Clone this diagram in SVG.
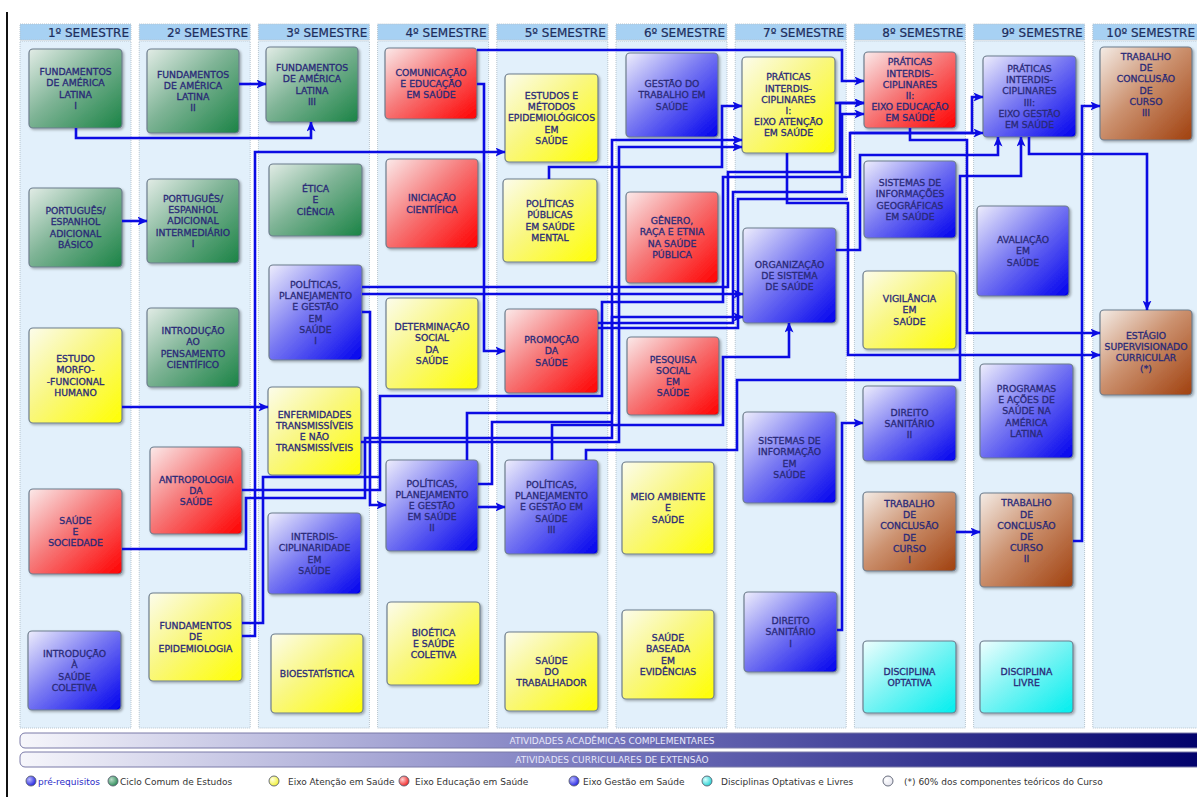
<svg xmlns="http://www.w3.org/2000/svg" width="1197" height="797" viewBox="0 0 1197 797">
<style>
.lane{fill:#e2f0fb;stroke:#b7c4ce;stroke-width:1;stroke-dasharray:1 1}
.hdr{fill:#a7d1f3;stroke:#b7c4ce;stroke-width:1;stroke-dasharray:1 1}
.ht{font-family:'DejaVu Sans','Liberation Sans',sans-serif;font-size:12px;fill:#1d2d5c;stroke:#1d2d5c;stroke-width:0.2;text-anchor:end}
.box{stroke:#6d7d8d;stroke-width:1.2;filter:url(#sh)}
.lbl{font-family:'DejaVu Sans','Liberation Sans',sans-serif;font-size:9.3px;fill:#2a2a78;stroke:#2a2a78;stroke-width:0.3;text-anchor:middle}
.g{fill:url(#gG)}.y{fill:url(#gY)}.r{fill:url(#gR)}.b{fill:url(#gB)}.br{fill:url(#gBr)}.c{fill:url(#gC)}
.cn{fill:none;stroke:#0b0be3;stroke-width:2.6;stroke-linejoin:miter}
.ar{marker-end:url(#ah)}
.bar{stroke:#7a7aa8;stroke-width:1;fill:url(#gBar)}
.bt{font-family:'DejaVu Sans','Liberation Sans',sans-serif;font-size:9px;fill:#e8e8fa;text-anchor:middle}
.lt{font-family:'DejaVu Sans','Liberation Sans',sans-serif;font-size:9px;fill:#333}
.lc{stroke:#5a6070;stroke-width:0.9}
</style>
<defs>
<filter id="sh" x="-10%" y="-10%" width="125%" height="125%"><feDropShadow dx="1.5" dy="1.5" stdDeviation="1.2" flood-color="#000" flood-opacity="0.3"/></filter>
<linearGradient id="gG" x1="0" y1="0" x2="1" y2="1"><stop offset="0" stop-color="#e2ece6"/><stop offset="0.45" stop-color="#7fb496"/><stop offset="1" stop-color="#1a8345"/></linearGradient>
<linearGradient id="gY" x1="0" y1="0" x2="1" y2="1"><stop offset="0" stop-color="#fcfcec"/><stop offset="0.45" stop-color="#f9f780"/><stop offset="1" stop-color="#ffff00"/></linearGradient>
<linearGradient id="gR" x1="0" y1="0" x2="1" y2="1"><stop offset="0" stop-color="#fbeaea"/><stop offset="0.45" stop-color="#f67a7a"/><stop offset="1" stop-color="#ff0000"/></linearGradient>
<linearGradient id="gB" x1="0" y1="0" x2="1" y2="1"><stop offset="0" stop-color="#eeeefc"/><stop offset="0.45" stop-color="#7a7af2"/><stop offset="1" stop-color="#0000ee"/></linearGradient>
<linearGradient id="gBr" x1="0" y1="0" x2="1" y2="1"><stop offset="0" stop-color="#f4ece6"/><stop offset="0.45" stop-color="#cc9270"/><stop offset="1" stop-color="#a0400e"/></linearGradient>
<linearGradient id="gC" x1="0" y1="0" x2="1" y2="1"><stop offset="0" stop-color="#eefefe"/><stop offset="0.45" stop-color="#80f4f4"/><stop offset="1" stop-color="#00eeee"/></linearGradient>
<linearGradient id="gBar" x1="0" y1="0" x2="1" y2="0"><stop offset="0" stop-color="#f6f6fb"/><stop offset="0.5" stop-color="#7474bc"/><stop offset="1" stop-color="#00006a"/></linearGradient>
<radialGradient id="lB" cx="0.35" cy="0.35" r="0.7"><stop offset="0" stop-color="#b8b8ff"/><stop offset="1" stop-color="#2020e0"/></radialGradient>
<radialGradient id="lG" cx="0.35" cy="0.35" r="0.7"><stop offset="0" stop-color="#b8dcc8"/><stop offset="1" stop-color="#2a8a55"/></radialGradient>
<radialGradient id="lY" cx="0.35" cy="0.35" r="0.7"><stop offset="0" stop-color="#ffffe0"/><stop offset="1" stop-color="#f0f030"/></radialGradient>
<radialGradient id="lR" cx="0.35" cy="0.35" r="0.7"><stop offset="0" stop-color="#ffd0d0"/><stop offset="1" stop-color="#f02020"/></radialGradient>
<radialGradient id="lC" cx="0.35" cy="0.35" r="0.7"><stop offset="0" stop-color="#d8ffff"/><stop offset="1" stop-color="#20d0d0"/></radialGradient>
<radialGradient id="lW" cx="0.35" cy="0.35" r="0.7"><stop offset="0" stop-color="#ffffff"/><stop offset="1" stop-color="#e4e4ee"/></radialGradient>
<marker id="ah" viewBox="0 0 10 9" refX="9.5" refY="4.5" markerWidth="10" markerHeight="9" markerUnits="userSpaceOnUse" orient="auto"><path d="M0,0 L10,4.5 L0,9 L2.5,4.5 z" fill="#0b0be3"/></marker>
</defs>
<rect width="1197" height="797" fill="#ffffff"/>
<line x1="7" y1="12" x2="7" y2="797" stroke="#111" stroke-width="2"/>
<g id="lanes">
<rect class="hdr" x="20" y="24" width="111" height="16"/><rect class="lane" x="20" y="41" width="111" height="687"/><text class="ht" x="129" y="37">1º SEMESTRE</text>
<rect class="hdr" x="139.2" y="24" width="111" height="16"/><rect class="lane" x="139.2" y="41" width="111" height="687"/><text class="ht" x="248.2" y="37">2º SEMESTRE</text>
<rect class="hdr" x="258.4" y="24" width="111" height="16"/><rect class="lane" x="258.4" y="41" width="111" height="687"/><text class="ht" x="367.4" y="37">3º SEMESTRE</text>
<rect class="hdr" x="377.6" y="24" width="111" height="16"/><rect class="lane" x="377.6" y="41" width="111" height="687"/><text class="ht" x="486.6" y="37">4º SEMESTRE</text>
<rect class="hdr" x="496.8" y="24" width="111" height="16"/><rect class="lane" x="496.8" y="41" width="111" height="687"/><text class="ht" x="605.8" y="37">5º SEMESTRE</text>
<rect class="hdr" x="616" y="24" width="111" height="16"/><rect class="lane" x="616" y="41" width="111" height="687"/><text class="ht" x="725" y="37">6º SEMESTRE</text>
<rect class="hdr" x="735.2" y="24" width="111" height="16"/><rect class="lane" x="735.2" y="41" width="111" height="687"/><text class="ht" x="844.2" y="37">7º SEMESTRE</text>
<rect class="hdr" x="854.4" y="24" width="111" height="16"/><rect class="lane" x="854.4" y="41" width="111" height="687"/><text class="ht" x="963.4" y="37">8º SEMESTRE</text>
<rect class="hdr" x="973.6" y="24" width="111" height="16"/><rect class="lane" x="973.6" y="41" width="111" height="687"/><text class="ht" x="1082.6" y="37">9º SEMESTRE</text>
<rect class="hdr" x="1092.8" y="24" width="111" height="16"/><rect class="lane" x="1092.8" y="41" width="111" height="687"/><text class="ht" x="1195" y="37">10º SEMESTRE</text>
</g>
<g id="nodes">
<g id="fal1"><rect class="box g" x="29" y="49" width="93" height="79" rx="4"/><text class="lbl" y="75.1"><tspan x="75.5">FUNDAMENTOS</tspan><tspan x="75.5" dy="11.2">DE AMÉRICA</tspan><tspan x="75.5" dy="11.2">LATINA</tspan><tspan x="75.5" dy="11.2">I</tspan></text></g>
<g id="peb"><rect class="box g" x="29" y="188" width="93" height="79" rx="4"/><text class="lbl" y="214.1"><tspan x="75.5">PORTUGUÊS/</tspan><tspan x="75.5" dy="11.2">ESPANHOL</tspan><tspan x="75.5" dy="11.2">ADICIONAL</tspan><tspan x="75.5" dy="11.2">BÁSICO</tspan></text></g>
<g id="emf"><rect class="box y" x="29" y="328" width="93" height="95" rx="4"/><text class="lbl" y="362.1"><tspan x="75.5">ESTUDO</tspan><tspan x="75.5" dy="11.2">MORFO-</tspan><tspan x="75.5" dy="11.2">-FUNCIONAL</tspan><tspan x="75.5" dy="11.2">HUMANO</tspan></text></g>
<g id="ses"><rect class="box r" x="29" y="489" width="93" height="85" rx="4"/><text class="lbl" y="523.7"><tspan x="75.5">SAÚDE</tspan><tspan x="75.5" dy="11.2">E</tspan><tspan x="75.5" dy="11.2">SOCIEDADE</tspan></text></g>
<g id="isc"><rect class="box b" x="28" y="631" width="93" height="79" rx="4"/><text class="lbl" y="657.1"><tspan x="74.5">INTRODUÇÃO</tspan><tspan x="74.5" dy="11.2">À</tspan><tspan x="74.5" dy="11.2">SAÚDE</tspan><tspan x="74.5" dy="11.2">COLETIVA</tspan></text></g>
<g id="fal2"><rect class="box g" x="147" y="49" width="92" height="84" rx="4"/><text class="lbl" y="77.6"><tspan x="193">FUNDAMENTOS</tspan><tspan x="193" dy="11.2">DE AMÉRICA</tspan><tspan x="193" dy="11.2">LATINA</tspan><tspan x="193" dy="11.2">II</tspan></text></g>
<g id="pei"><rect class="box g" x="147" y="179" width="92" height="84" rx="4"/><text class="lbl" y="202"><tspan x="193">PORTUGUÊS/</tspan><tspan x="193" dy="11.2">ESPANHOL</tspan><tspan x="193" dy="11.2">ADICIONAL</tspan><tspan x="193" dy="11.2">INTERMEDIÁRIO</tspan><tspan x="193" dy="11.2">I</tspan></text></g>
<g id="ipc"><rect class="box g" x="147" y="308" width="92" height="79" rx="4"/><text class="lbl" y="334.1"><tspan x="193">INTRODUÇÃO</tspan><tspan x="193" dy="11.2">AO</tspan><tspan x="193" dy="11.2">PENSAMENTO</tspan><tspan x="193" dy="11.2">CIENTÍFICO</tspan></text></g>
<g id="ant"><rect class="box r" x="150" y="447" width="92" height="87" rx="4"/><text class="lbl" y="482.7"><tspan x="196">ANTROPOLOGIA</tspan><tspan x="196" dy="11.2">DA</tspan><tspan x="196" dy="11.2">SAÚDE</tspan></text></g>
<g id="epi"><rect class="box y" x="149" y="593" width="93" height="88" rx="4"/><text class="lbl" y="629.2"><tspan x="195.5">FUNDAMENTOS</tspan><tspan x="195.5" dy="11.2">DE</tspan><tspan x="195.5" dy="11.2">EPIDEMIOLOGIA</tspan></text></g>
<g id="fal3"><rect class="box g" x="266" y="47" width="92" height="75" rx="4"/><text class="lbl" y="71.1"><tspan x="312">FUNDAMENTOS</tspan><tspan x="312" dy="11.2">DE AMÉRICA</tspan><tspan x="312" dy="11.2">LATINA</tspan><tspan x="312" dy="11.2">III</tspan></text></g>
<g id="etica"><rect class="box g" x="269" y="164" width="93" height="72" rx="4"/><text class="lbl" y="192.2"><tspan x="315.5">ÉTICA</tspan><tspan x="315.5" dy="11.2">E</tspan><tspan x="315.5" dy="11.2">CIÊNCIA</tspan></text></g>
<g id="ppg1"><rect class="box b" x="269" y="265" width="93" height="95" rx="4"/><text class="lbl" y="287.9"><tspan x="315.5">POLÍTICAS,</tspan><tspan x="315.5" dy="11.2">PLANEJAMENTO</tspan><tspan x="315.5" dy="11.2">E GESTÃO</tspan><tspan x="315.5" dy="11.2">EM</tspan><tspan x="315.5" dy="11.2">SAÚDE</tspan><tspan x="315.5" dy="11.2">I</tspan></text></g>
<g id="enf"><rect class="box y" x="268" y="387" width="93" height="88" rx="4"/><text class="lbl" y="417.6"><tspan x="314.5">ENFERMIDADES</tspan><tspan x="314.5" dy="11.2">TRANSMISSÍVEIS</tspan><tspan x="314.5" dy="11.2">E NÃO</tspan><tspan x="314.5" dy="11.2">TRANSMISSÍVEIS</tspan></text></g>
<g id="inter"><rect class="box b" x="268" y="513" width="93" height="81" rx="4"/><text class="lbl" y="540.1"><tspan x="314.5">INTERDIS-</tspan><tspan x="314.5" dy="11.2">CIPLINARIDADE</tspan><tspan x="314.5" dy="11.2">EM</tspan><tspan x="314.5" dy="11.2">SAÚDE</tspan></text></g>
<g id="bio"><rect class="box y" x="271" y="634" width="92" height="79" rx="4"/><text class="lbl" x="317" y="676.9">BIOESTATÍSTICA</text></g>
<g id="com"><rect class="box r" x="385" y="48" width="92" height="71" rx="4"/><text class="lbl" y="75.7"><tspan x="431">COMUNICAÇÃO</tspan><tspan x="431" dy="11.2">E EDUCAÇÃO</tspan><tspan x="431" dy="11.2">EM SAÚDE</tspan></text></g>
<g id="ic"><rect class="box r" x="386" y="159" width="92" height="89" rx="4"/><text class="lbl" y="201.3"><tspan x="432">INICIAÇÃO</tspan><tspan x="432" dy="11.2">CIENTÍFICA</tspan></text></g>
<g id="dss"><rect class="box y" x="386" y="298" width="92" height="91" rx="4"/><text class="lbl" y="330.1"><tspan x="432">DETERMINAÇÃO</tspan><tspan x="432" dy="11.2">SOCIAL</tspan><tspan x="432" dy="11.2">DA</tspan><tspan x="432" dy="11.2">SAÚDE</tspan></text></g>
<g id="ppg2"><rect class="box b" x="386" y="460" width="92" height="91" rx="4"/><text class="lbl" y="486.5"><tspan x="432">POLÍTICAS,</tspan><tspan x="432" dy="11.2">PLANEJAMENTO</tspan><tspan x="432" dy="11.2">E GESTÃO</tspan><tspan x="432" dy="11.2">EM SAÚDE</tspan><tspan x="432" dy="11.2">II</tspan></text></g>
<g id="bsc"><rect class="box y" x="387" y="602" width="93" height="83" rx="4"/><text class="lbl" y="635.7"><tspan x="433.5">BIOÉTICA</tspan><tspan x="433.5" dy="11.2">E SAÚDE</tspan><tspan x="433.5" dy="11.2">COLETIVA</tspan></text></g>
<g id="eme"><rect class="box y" x="505" y="74" width="93" height="88" rx="4"/><text class="lbl" y="99"><tspan x="551.5">ESTUDOS E</tspan><tspan x="551.5" dy="11.2">MÉTODOS</tspan><tspan x="551.5" dy="11.2">EPIDEMIOLÓGICOS</tspan><tspan x="551.5" dy="11.2">EM</tspan><tspan x="551.5" dy="11.2">SAÚDE</tspan></text></g>
<g id="ppsm"><rect class="box y" x="503" y="179" width="94" height="83" rx="4"/><text class="lbl" y="207.1"><tspan x="550">POLÍTICAS</tspan><tspan x="550" dy="11.2">PÚBLICAS</tspan><tspan x="550" dy="11.2">EM SAÚDE</tspan><tspan x="550" dy="11.2">MENTAL</tspan></text></g>
<g id="prom"><rect class="box r" x="505" y="309" width="93" height="84" rx="4"/><text class="lbl" y="343.2"><tspan x="551.5">PROMOÇÃO</tspan><tspan x="551.5" dy="11.2">DA</tspan><tspan x="551.5" dy="11.2">SAÚDE</tspan></text></g>
<g id="ppg3"><rect class="box b" x="505" y="460" width="93" height="94" rx="4"/><text class="lbl" y="488"><tspan x="551.5">POLÍTICAS,</tspan><tspan x="551.5" dy="11.2">PLANEJAMENTO</tspan><tspan x="551.5" dy="11.2">E GESTÃO EM</tspan><tspan x="551.5" dy="11.2">SAÚDE</tspan><tspan x="551.5" dy="11.2">III</tspan></text></g>
<g id="st"><rect class="box y" x="505" y="632" width="93" height="79" rx="4"/><text class="lbl" y="663.7"><tspan x="551.5">SAÚDE</tspan><tspan x="551.5" dy="11.2">DO</tspan><tspan x="551.5" dy="11.2">TRABALHADOR</tspan></text></g>
<g id="gt"><rect class="box b" x="626" y="53" width="92" height="84" rx="4"/><text class="lbl" y="87.2"><tspan x="672">GESTÃO DO</tspan><tspan x="672" dy="11.2">TRABALHO EM</tspan><tspan x="672" dy="11.2">SAÚDE</tspan></text></g>
<g id="gen"><rect class="box r" x="626" y="192" width="92" height="91" rx="4"/><text class="lbl" y="224.1"><tspan x="672">GÊNERO,</tspan><tspan x="672" dy="11.2">RAÇA E ETNIA</tspan><tspan x="672" dy="11.2">NA SAÚDE</tspan><tspan x="672" dy="11.2">PÚBLICA</tspan></text></g>
<g id="pes"><rect class="box r" x="627" y="337" width="92" height="78" rx="4"/><text class="lbl" y="362.6"><tspan x="673">PESQUISA</tspan><tspan x="673" dy="11.2">SOCIAL</tspan><tspan x="673" dy="11.2">EM</tspan><tspan x="673" dy="11.2">SAÚDE</tspan></text></g>
<g id="meio"><rect class="box y" x="622" y="462" width="92" height="92" rx="4"/><text class="lbl" y="500.2"><tspan x="668">MEIO AMBIENTE</tspan><tspan x="668" dy="11.2">E</tspan><tspan x="668" dy="11.2">SAÚDE</tspan></text></g>
<g id="sbe"><rect class="box y" x="622" y="610" width="92" height="89" rx="4"/><text class="lbl" y="641.1"><tspan x="668">SAÚDE</tspan><tspan x="668" dy="11.2">BASEADA</tspan><tspan x="668" dy="11.2">EM</tspan><tspan x="668" dy="11.2">EVIDÊNCIAS</tspan></text></g>
<g id="pi1"><rect class="box y" x="742" y="57" width="93" height="96" rx="4"/><text class="lbl" y="80.4"><tspan x="788.5">PRÁTICAS</tspan><tspan x="788.5" dy="11.2">INTERDIS-</tspan><tspan x="788.5" dy="11.2">CIPLINARES</tspan><tspan x="788.5" dy="11.2">I:</tspan><tspan x="788.5" dy="11.2">EIXO ATENÇÃO</tspan><tspan x="788.5" dy="11.2">EM SAÚDE</tspan></text></g>
<g id="org"><rect class="box b" x="743" y="228" width="93" height="95" rx="4"/><text class="lbl" y="267.7"><tspan x="789.5">ORGANIZAÇÃO</tspan><tspan x="789.5" dy="11.2">DE SISTEMA</tspan><tspan x="789.5" dy="11.2">DE SAÚDE</tspan></text></g>
<g id="sis"><rect class="box b" x="743" y="412" width="93" height="91" rx="4"/><text class="lbl" y="444.1"><tspan x="789.5">SISTEMAS DE</tspan><tspan x="789.5" dy="11.2">INFORMAÇÃO</tspan><tspan x="789.5" dy="11.2">EM</tspan><tspan x="789.5" dy="11.2">SAÚDE</tspan></text></g>
<g id="ds1"><rect class="box b" x="744" y="592" width="93" height="80" rx="4"/><text class="lbl" y="624.2"><tspan x="790.5">DIREITO</tspan><tspan x="790.5" dy="11.2">SANITÁRIO</tspan><tspan x="790.5" dy="11.2">I</tspan></text></g>
<g id="pi2"><rect class="box r" x="864" y="52" width="92" height="76" rx="4"/><text class="lbl" y="65.4"><tspan x="910">PRÁTICAS</tspan><tspan x="910" dy="11.2">INTERDIS-</tspan><tspan x="910" dy="11.2">CIPLINARES</tspan><tspan x="910" dy="11.2">II:</tspan><tspan x="910" dy="11.2">EIXO EDUCAÇÃO</tspan><tspan x="910" dy="11.2">EM SAÚDE</tspan></text></g>
<g id="sig"><rect class="box b" x="864" y="161" width="92" height="77" rx="4"/><text class="lbl" y="186.1"><tspan x="910">SISTEMAS DE</tspan><tspan x="910" dy="11.2">INFORMAÇÕES</tspan><tspan x="910" dy="11.2">GEOGRÁFICAS</tspan><tspan x="910" dy="11.2">EM SAÚDE</tspan></text></g>
<g id="vig"><rect class="box y" x="863" y="271" width="93" height="78" rx="4"/><text class="lbl" y="302.2"><tspan x="909.5">VIGILÂNCIA</tspan><tspan x="909.5" dy="11.2">EM</tspan><tspan x="909.5" dy="11.2">SAÚDE</tspan></text></g>
<g id="ds2"><rect class="box b" x="863" y="386" width="93" height="75" rx="4"/><text class="lbl" y="415.7"><tspan x="909.5">DIREITO</tspan><tspan x="909.5" dy="11.2">SANITÁRIO</tspan><tspan x="909.5" dy="11.2">II</tspan></text></g>
<g id="tcc1"><rect class="box br" x="863" y="492" width="93" height="79" rx="4"/><text class="lbl" y="506.9"><tspan x="909.5">TRABALHO</tspan><tspan x="909.5" dy="11.2">DE</tspan><tspan x="909.5" dy="11.2">CONCLUSÃO</tspan><tspan x="909.5" dy="11.2">DE</tspan><tspan x="909.5" dy="11.2">CURSO</tspan><tspan x="909.5" dy="11.2">I</tspan></text></g>
<g id="opt"><rect class="box c" x="863" y="641" width="93" height="72" rx="4"/><text class="lbl" y="674.8"><tspan x="909.5">DISCIPLINA</tspan><tspan x="909.5" dy="11.2">OPTATIVA</tspan></text></g>
<g id="pi3"><rect class="box b" x="983" y="56" width="93" height="81" rx="4"/><text class="lbl" y="71.9"><tspan x="1029.5">PRÁTICAS</tspan><tspan x="1029.5" dy="11.2">INTERDIS-</tspan><tspan x="1029.5" dy="11.2">CIPLINARES</tspan><tspan x="1029.5" dy="11.2">III:</tspan><tspan x="1029.5" dy="11.2">EIXO GESTÃO</tspan><tspan x="1029.5" dy="11.2">EM SAÚDE</tspan></text></g>
<g id="aval"><rect class="box b" x="977" y="206" width="92" height="90" rx="4"/><text class="lbl" y="243.2"><tspan x="1023">AVALIAÇÃO</tspan><tspan x="1023" dy="11.2">EM</tspan><tspan x="1023" dy="11.2">SAÚDE</tspan></text></g>
<g id="prog"><rect class="box b" x="980" y="364" width="93" height="94" rx="4"/><text class="lbl" y="392"><tspan x="1026.5">PROGRAMAS</tspan><tspan x="1026.5" dy="11.2">E AÇÕES DE</tspan><tspan x="1026.5" dy="11.2">SAÚDE NA</tspan><tspan x="1026.5" dy="11.2">AMÉRICA</tspan><tspan x="1026.5" dy="11.2">LATINA</tspan></text></g>
<g id="tcc2"><rect class="box br" x="980" y="493" width="93" height="94" rx="4"/><text class="lbl" y="506.4"><tspan x="1026.5">TRABALHO</tspan><tspan x="1026.5" dy="11.2">DE</tspan><tspan x="1026.5" dy="11.2">CONCLUSÃO</tspan><tspan x="1026.5" dy="11.2">DE</tspan><tspan x="1026.5" dy="11.2">CURSO</tspan><tspan x="1026.5" dy="11.2">II</tspan></text></g>
<g id="livre"><rect class="box c" x="980" y="641" width="93" height="72" rx="4"/><text class="lbl" y="674.8"><tspan x="1026.5">DISCIPLINA</tspan><tspan x="1026.5" dy="11.2">LIVRE</tspan></text></g>
<g id="tcc3"><rect class="box br" x="1100" y="47" width="92" height="93" rx="4"/><text class="lbl" y="59.9"><tspan x="1146">TRABALHO</tspan><tspan x="1146" dy="11.2">DE</tspan><tspan x="1146" dy="11.2">CONCLUSÃO</tspan><tspan x="1146" dy="11.2">DE</tspan><tspan x="1146" dy="11.2">CURSO</tspan><tspan x="1146" dy="11.2">III</tspan></text></g>
<g id="est"><rect class="box br" x="1100" y="310" width="92" height="85" rx="4"/><text class="lbl" y="338.6"><tspan x="1146">ESTÁGIO</tspan><tspan x="1146" dy="11.2">SUPERVISIONADO</tspan><tspan x="1146" dy="11.2">CURRICULAR</tspan><tspan x="1146" dy="11.2">(*)</tspan></text></g>
</g>
<g id="connectors">
<path class="cn ar" d="M239,84 H266"/>
<path class="cn ar" d="M76,128 V138 H311 V122"/>
<path class="cn ar" d="M122,221 H147"/>
<path class="cn ar" d="M122,407 H268"/>
<path class="cn ar" d="M242,636 H255 V152 H505"/>
<path class="cn" d="M242,623 H263 V477 H380"/>
<path class="cn ar" d="M242,490 H380 V396 H602 V302 H723 V177 H850 V133 H983"/>
<path class="cn ar" d="M850,133 H972 V97 H983"/>
<path class="cn ar" d="M477,84 H484 V351 H505"/>
<path class="cn ar" d="M477,50 H842 V81 H864"/>
<path class="cn ar" d="M549,179 V167 H722 V106 H742"/>
<path class="cn ar" d="M835,103 H864"/>
<path class="cn ar" d="M910,128 V140 H967 V333 H1100"/>
<path class="cn ar" d="M787,153 V203 H848 V355 H1100"/>
<path class="cn ar" d="M1029,137 V154 H1147 V310"/>
<path class="cn ar" d="M1073,541 H1082 V106 H1100"/>
<path class="cn ar" d="M956,532 H980"/>
<path class="cn ar" d="M837,630 H842 V423 H863"/>
<path class="cn ar" d="M362,312 H370 V505 H386"/>
<path class="cn ar" d="M478,507 H505"/>
<path class="cn ar" d="M362,294 H743"/>
<path class="cn ar" d="M552,460 V425 H723 V357 H789 V323"/>
<path class="cn ar" d="M586,460 V450 H737 V380 H960 V176 H1021 V137"/>
<path class="cn ar" d="M836,250 H860 V155 H998 V137"/>
<path class="cn ar" d="M122,549 H246 V498 H365 V438 H612 V140 H742"/>
<path class="cn ar" d="M361,442 H619 V147 H742"/>
<path class="cn ar" d="M467,460 V413 H612 V317 H743"/>
<path class="cn" d="M478,484 H492 V422 H612"/>
<path class="cn ar" d="M362,287 H728 V172 H840 V103 H864"/>
<path class="cn ar" d="M598,323 H733 V192 H842 V114 H864"/>
<path class="cn" d="M598,328 H738 V199 H848"/>
</g>
<g id="bars">
<rect class="bar" x="20" y="733" width="1190" height="15" rx="5"/>
<text class="bt" x="612" y="744">ATIVIDADES ACADÊMICAS COMPLEMENTARES</text>
<rect class="bar" x="20" y="752" width="1190" height="15" rx="5"/>
<text class="bt" x="612" y="763">ATIVIDADES CURRICULARES DE EXTENSÃO</text>
</g>
<g id="legend">
<circle class="lc" cx="31" cy="781" r="5" fill="url(#lB)"/><text class="lt" x="38" y="784.5" style="fill:#2a2ac8">pré-requisitos</text>
<circle class="lc" cx="113" cy="781" r="5" fill="url(#lG)"/><text class="lt" x="120" y="784.5">Ciclo Comum de Estudos</text>
<circle class="lc" cx="274" cy="781" r="5" fill="url(#lY)"/><text class="lt" x="288" y="784.5">Eixo Atenção em Saúde</text>
<circle class="lc" cx="404" cy="781" r="5" fill="url(#lR)"/><text class="lt" x="415" y="784.5">Eixo Educação em Saúde</text>
<circle class="lc" cx="574" cy="781" r="5" fill="url(#lB)"/><text class="lt" x="583" y="784.5">Eixo Gestão em Saúde</text>
<circle class="lc" cx="707" cy="781" r="5" fill="url(#lC)"/><text class="lt" x="721" y="784.5">Disciplinas Optativas e Livres</text>
<circle class="lc" cx="888" cy="781" r="5" fill="url(#lW)"/><text class="lt" x="904" y="784.5">(*) 60% dos componentes teóricos do Curso</text>
</g>
</svg>
